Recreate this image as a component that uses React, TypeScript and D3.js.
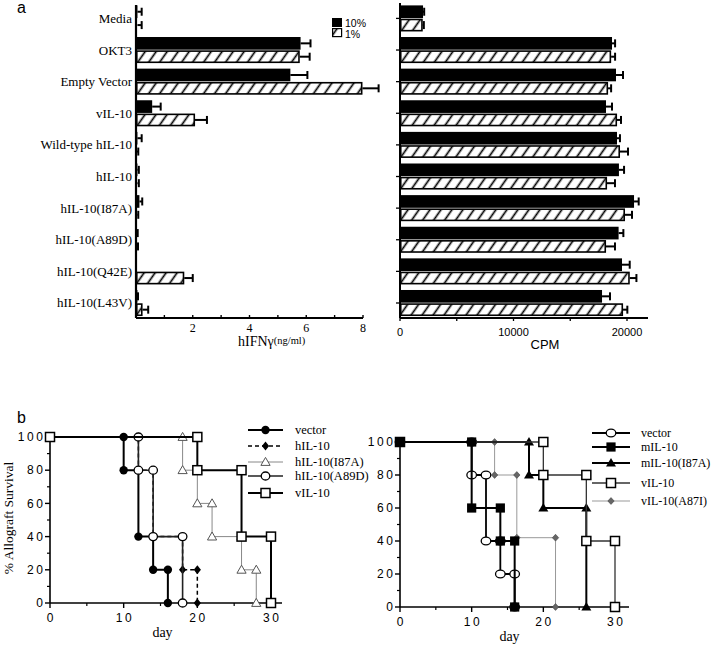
import React from "react";
import * as d3 from "d3";

// ---------- Panel a data ----------
const categories = [
  "Media",
  "OKT3",
  "Empty Vector",
  "vIL-10",
  "Wild-type hIL-10",
  "hIL-10",
  "hIL-10(I87A)",
  "hIL-10(A89D)",
  "hIL-10(Q42E)",
  "hIL-10(L43V)",
];
const groups = ["10%", "1%"];
const ifn10 = [0.05, 5.8, 5.44, 0.57, 0.05, 0.05, 0.12, 0.03, 0.0, 0.05];
const ifn10Err = [0.15, 0.35, 0.6, 0.3, 0.15, 0.05, 0.1, 0.03, 0.0, 0.02];
const ifn1 = [0.05, 5.77, 7.98, 2.08, 0.03, 0.05, 0.05, 0.04, 1.7, 0.23];
const ifn1Err = [0.15, 0.35, 0.57, 0.42, 0.05, 0.05, 0.03, 0.03, 0.3, 0.2];
const ifnTicks = [2, 4, 6, 8];

const cpm10 = [2030, 18680, 19030, 18150, 19120, 19290, 20620, 19260, 19560, 17800];
const cpm10Err = [100, 270, 620, 530, 260, 450, 410, 420, 680, 700];
const cpm1 = [2000, 18600, 18330, 19120, 19380, 18240, 19820, 18150, 20240, 19650];
const cpm1Err = [100, 350, 270, 350, 710, 700, 620, 790, 590, 380];
const cpmTicks = [0, 10000, 20000];

// ---------- Panel b data ----------
const survTicks = [0, 20, 40, 60, 80, 100];
const dayTicks = [0, 10, 20, 30];

const lVectorDays = [0, 10, 12, 14, 16];
const lVectorSurv = [100, 80, 40, 20, 0];
const lHil10Days = [0, 12, 14, 18, 20];
const lHil10Surv = [100, 80, 40, 20, 0];
const lI87aDays = [0, 18, 20, 22, 26, 28];
const lI87aSurv = [100, 80, 60, 40, 20, 0];
const lA89dDays = [0, 12, 14, 18];
const lA89dSurv = [100, 80, 40, 0];
const lVil10Days = [0, 20, 26, 30];
const lVil10Surv = [100, 80, 40, 0];

const rVectorDays = [0, 10, 12, 14, 16];
const rVectorSurv = [100, 80, 40, 20, 0];
const rMil10Days = [0, 10, 14, 16];
const rMil10Surv = [100, 60, 40, 0];
const rMI87aDays = [0, 18, 20, 26];
const rMI87aSurv = [100, 80, 60, 0];
const rVil10Days = [0, 20, 26, 30];
const rVil10Surv = [100, 80, 40, 0];
const rA87iDays = [0, 13.2, 16.3, 21.7];
const rA87iSurv = [100, 80, 42, 0];

type Kind = "fcircle" | "ocircle" | "ocircleW" | "fdiamond" | "otri" | "ftri" | "osquare" | "fsquare" | "gdiamond";

function Marker({ kind, x, y }: { kind: Kind; x: number; y: number }) {
  switch (kind) {
    case "fcircle":
      return <circle cx={x} cy={y} r={4.2} fill="#000" />;
    case "ocircle":
      return <ellipse cx={x} cy={y} rx={4.3} ry={4} fill="#fff" stroke="#000" strokeWidth={1.3} />;
    case "ocircleW":
      return <ellipse cx={x} cy={y} rx={4.8} ry={3.9} fill="#fff" stroke="#000" strokeWidth={1.3} />;
    case "fdiamond":
      return <path d={`M${x},${y - 4.5}L${x + 3.6},${y}L${x},${y + 4.5}L${x - 3.6},${y}Z`} fill="#000" />;
    case "otri":
      return <path d={`M${x},${y - 4.6}L${x + 4.6},${y + 3.4}L${x - 4.6},${y + 3.4}Z`} fill="#fff" stroke="#555" strokeWidth={1} />;
    case "ftri":
      return <path d={`M${x},${y - 5}L${x + 5},${y + 3.6}L${x - 5},${y + 3.6}Z`} fill="#000" />;
    case "osquare":
      return <rect x={x - 4.5} y={y - 4.5} width={9} height={9} fill="#fff" stroke="#000" strokeWidth={1.5} />;
    case "fsquare":
      return <rect x={x - 4.6} y={y - 4.6} width={9.2} height={9.2} fill="#000" />;
    case "gdiamond":
      return <path d={`M${x},${y - 3.4}L${x + 3.2},${y}L${x},${y + 3.4}L${x - 3.2},${y}Z`} fill="#666" stroke="#444" strokeWidth={0.6} />;
  }
  return null;
}

interface Series {
  name: string;
  days: number[];
  surv: number[];
  kind: Kind;
  stroke: string;
  width: number;
  dash?: string;
}

function SurvivalPanel({
  series,
  order,
  x0,
  x30,
  xEnd,
  y0,
  y100,
  legendX,
  legendTextX,
  legendRows,
  legendFont,
}: {
  series: Series[];
  order: number[];
  x0: number;
  x30: number;
  xEnd: number;
  y0: number;
  y100: number;
  legendX: [number, number];
  legendTextX: number;
  legendRows: number[];
  legendFont: number;
}) {
  const x = d3.scaleLinear().domain([0, 30]).range([x0, x30]);
  const y = d3.scaleLinear().domain([0, 100]).range([y0, y100]);
  const line = d3
    .line<[number, number]>()
    .x((d) => x(d[0]))
    .y((d) => y(d[1]))
    .curve(d3.curveStepAfter);
  const minorX = [5, 15, 25];
  const minorY = [10, 30, 50, 70, 90];
  const tickFont = { fontFamily: "Liberation Sans, Arial, sans-serif", fontSize: 12, letterSpacing: 2.6 };
  return (
    <g>
      {/* axes */}
      <line x1={x0} x2={x0} y1={y100} y2={y0} stroke="#000" strokeWidth={1.6} />
      <line x1={x0} x2={xEnd} y1={y0} y2={y0} stroke="#000" strokeWidth={1.6} />
      {survTicks.map((t) => (
        <g key={"yt" + t}>
          <line x1={x0 - 5} x2={x0} y1={y(t)} y2={y(t)} stroke="#000" strokeWidth={1.4} />
          <text x={x0 - 7 + 2.6} y={y(t) + 4.2} textAnchor="end" {...tickFont}>
            {t}
          </text>
        </g>
      ))}
      {minorY.map((t) => (
        <line key={"ym" + t} x1={x0 - 3} x2={x0} y1={y(t)} y2={y(t)} stroke="#000" strokeWidth={1.2} />
      ))}
      {dayTicks.map((t) => (
        <g key={"xt" + t}>
          <line x1={x(t)} x2={x(t)} y1={y0} y2={y0 + 5} stroke="#000" strokeWidth={1.4} />
          <text x={x(t) + 1.3} y={y0 + 19} textAnchor="middle" {...tickFont}>
            {t}
          </text>
        </g>
      ))}
      {minorX.map((t) => (
        <line key={"xm" + t} x1={x(t)} x2={x(t)} y1={y0} y2={y0 + 3} stroke="#000" strokeWidth={1.2} />
      ))}
      <text
        x={(x0 + x30) / 2 + 2}
        y={y0 + 34}
        textAnchor="middle"
        fontFamily="Liberation Serif, Times New Roman, serif"
        fontSize={14}
      >
        day
      </text>
      {/* curves */}
      {order.map((i) => {
        const s = series[i];
        const pts: [number, number][] = s.days.map((d, k) => [d, s.surv[k]]);
        const marks: [number, number][] = [[s.days[0], s.surv[0]]];
        for (let k = 1; k < s.days.length; k++) {
          marks.push([s.days[k], s.surv[k - 1]]);
          marks.push([s.days[k], s.surv[k]]);
        }
        return (
          <g key={s.name}>
            <path d={line(pts) || ""} fill="none" stroke={s.stroke} strokeWidth={s.width} strokeDasharray={s.dash} />
            {marks.map((m, k) => (
              <Marker key={k} kind={s.kind} x={x(m[0])} y={y(m[1])} />
            ))}
          </g>
        );
      })}
      {/* legend */}
      {series.map((s, i) => (
        <g key={"lg" + s.name}>
          <line
            x1={legendX[0]}
            x2={legendX[1]}
            y1={legendRows[i]}
            y2={legendRows[i]}
            stroke={s.stroke}
            strokeWidth={s.width}
            strokeDasharray={s.dash}
          />
          <Marker kind={s.kind} x={(legendX[0] + legendX[1]) / 2} y={legendRows[i]} />
          <text
            x={legendTextX}
            y={legendRows[i] + 4}
            fontFamily="Liberation Serif, Times New Roman, serif"
            fontSize={legendFont}
          >
            {s.name}
          </text>
        </g>
      ))}
    </g>
  );
}

export default function App() {
  const yBand = d3.scaleBand<string>().domain(categories).range([3.4, 318]).paddingInner(0.177).paddingOuter(0.063);
  const sub = d3.scaleBand<string>().domain(groups).range([0, yBand.bandwidth()]).paddingInner(0.05);
  const xIfn = d3.scaleLinear().domain([0, 8]).range([136, 363]);
  const xCpm = d3.scaleLinear().domain([0, 20000]).range([400, 627]);
  const serif = "Liberation Serif, Times New Roman, serif";
  const sans = "Liberation Sans, Arial, Helvetica, sans-serif";

  const barPanel = (
    xs: d3.ScaleLinear<number, number>,
    v10: number[],
    e10: number[],
    v1: number[],
    e1: number[],
    key: string
  ) =>
    categories.map((c, i) => {
      const rows = [
        { g: "10%", v: v10[i], e: e10[i] },
        { g: "1%", v: v1[i], e: e1[i] },
      ];
      return (
        <g key={key + c}>
          {rows.map((r) => {
            const y0 = (yBand(c) || 0) + (sub(r.g) || 0);
            const h = sub.bandwidth();
            const yc = y0 + h / 2;
            const w = Math.max(0, xs(r.v) - xs(0));
            return (
              <g key={r.g}>
                {r.e > 0 && (
                  <g>
                    <line x1={xs(r.v)} x2={xs(r.v + r.e)} y1={yc} y2={yc} stroke="#000" strokeWidth={2} />
                    <line x1={xs(r.v + r.e)} x2={xs(r.v + r.e)} y1={yc - 4} y2={yc + 4} stroke="#000" strokeWidth={2} />
                  </g>
                )}
                {w > 0.5 &&
                  (r.g === "10%" ? (
                    <rect x={xs(0)} y={y0} width={w} height={h} fill="#000" />
                  ) : (
                    <rect
                      x={xs(0) + 0.75}
                      y={y0 + 0.75}
                      width={Math.max(0, w - 1.5)}
                      height={h - 1.5}
                      fill="url(#hatch)"
                      stroke="#000"
                      strokeWidth={1.6}
                    />
                  ))}
              </g>
            );
          })}
        </g>
      );
    });

  const leftSeries: Series[] = [
    { name: "vector", days: lVectorDays, surv: lVectorSurv, kind: "fcircle", stroke: "#000", width: 2 },
    { name: "hIL-10", days: lHil10Days, surv: lHil10Surv, kind: "fdiamond", stroke: "#000", width: 1.5, dash: "4,3" },
    { name: "hIL-10(I87A)", days: lI87aDays, surv: lI87aSurv, kind: "otri", stroke: "#888", width: 1 },
    { name: "hIL-10(A89D)", days: lA89dDays, surv: lA89dSurv, kind: "ocircle", stroke: "#222", width: 1.6 },
    { name: "vIL-10", days: lVil10Days, surv: lVil10Surv, kind: "osquare", stroke: "#000", width: 2 },
  ];
  const rightSeries: Series[] = [
    { name: "vector", days: rVectorDays, surv: rVectorSurv, kind: "ocircleW", stroke: "#000", width: 1.8 },
    { name: "mIL-10", days: rMil10Days, surv: rMil10Surv, kind: "fsquare", stroke: "#000", width: 2 },
    { name: "mIL-10(I87A)", days: rMI87aDays, surv: rMI87aSurv, kind: "ftri", stroke: "#000", width: 2 },
    { name: " vIL-10", days: rVil10Days, surv: rVil10Surv, kind: "osquare", stroke: "#333", width: 1.3 },
    { name: "vIL-10(A87I)", days: rA87iDays, surv: rA87iSurv, kind: "gdiamond", stroke: "#999", width: 1 },
  ];

  return (
    <svg
      width={720}
      height={650}
      viewBox="0 0 720 650"
      style={{ position: "absolute", left: 0, top: 0, background: "#fff" }}
    >
      <defs>
        <pattern id="hatch" patternUnits="userSpaceOnUse" width={9} height={9} patternTransform="rotate(35)">
          <rect width={9} height={9} fill="#fff" />
          <line x1={4.5} x2={4.5} y1={0} y2={9} stroke="#000" strokeWidth={1.7} />
        </pattern>
      </defs>
      <rect width={720} height={650} fill="#fff" />

      {/* panel labels */}
      <text x={17} y={13} fontFamily={sans} fontSize={16}>
        a
      </text>
      <text x={17} y={423} fontFamily={sans} fontSize={16}>
        b
      </text>

      {/* ---- panel a left: IFN ---- */}
      {barPanel(xIfn, ifn10, ifn10Err, ifn1, ifn1Err, "ifn")}
      <line x1={xIfn(0)} x2={xIfn(0)} y1={5} y2={318} stroke="#000" strokeWidth={2.2} />
      <line x1={xIfn(0)} x2={xIfn(8)} y1={318} y2={318} stroke="#000" strokeWidth={2} />
      {d3.range(1, 9).map((t) => (
        <line key={"it" + t} x1={xIfn(t)} x2={xIfn(t)} y1={318} y2={315} stroke="#000" strokeWidth={1.4} />
      ))}
      {ifnTicks.map((t) => (
        <text key={"il" + t} x={xIfn(t)} y={332} textAnchor="middle" fontFamily={serif} fontSize={12}>
          {t}
        </text>
      ))}
      {categories.map((c) => (
        <text
          key={"cl" + c}
          x={132}
          y={(yBand(c) || 0) + yBand.bandwidth() / 2 + 4.5}
          textAnchor="end"
          fontFamily={serif}
          fontSize={13}
        >
          {c}
        </text>
      ))}
      <text x={238} y={346} fontFamily={serif} fontSize={14}>
        hIFNγ
        <tspan fontSize={10.5} dy={-2}>
          (ng/ml)
        </tspan>
      </text>
      {/* legend */}
      <rect x={332} y={18} width={10} height={9} fill="#000" />
      <rect x={332.6} y={28.6} width={9} height={8} fill="url(#hatch)" stroke="#000" strokeWidth={1.2} />
      <text x={345} y={26.5} fontFamily={sans} fontSize={10.5}>
        10%
      </text>
      <text x={345} y={37.5} fontFamily={sans} fontSize={10.5}>
        1%
      </text>

      {/* ---- panel a right: CPM ---- */}
      {barPanel(xCpm, cpm10, cpm10Err, cpm1, cpm1Err, "cpm")}
      <line x1={xCpm(0)} x2={xCpm(0)} y1={3} y2={318} stroke="#000" strokeWidth={2} />
      <line x1={xCpm(0)} x2={648} y1={318} y2={318} stroke="#000" strokeWidth={2} />
      {categories.map((c) => (
        <line
          key={"ct" + c}
          x1={xCpm(0) - 4}
          x2={xCpm(0)}
          y1={(yBand(c) || 0) + yBand.bandwidth() / 2}
          y2={(yBand(c) || 0) + yBand.bandwidth() / 2}
          stroke="#000"
          strokeWidth={1.3}
        />
      ))}
      {[0, 5000, 10000, 15000, 20000].map((t) => (
        <line key={"cx" + t} x1={xCpm(t)} x2={xCpm(t)} y1={318} y2={321} stroke="#000" strokeWidth={1.3} />
      ))}
      {cpmTicks.map((t) => (
        <text key={"cxl" + t} x={xCpm(t)} y={336} textAnchor="middle" fontFamily={sans} fontSize={11}>
          {t}
        </text>
      ))}
      <text x={545} y={349} textAnchor="middle" fontFamily={sans} fontSize={13}>
        CPM
      </text>

      {/* ---- panel b ---- */}
      <text
        transform="translate(13,518) rotate(-90)"
        textAnchor="middle"
        fontFamily={serif}
        fontSize={13.5}
      >
        % Allograft Survival
      </text>
      <SurvivalPanel
        series={leftSeries}
        order={[1, 2, 0, 3, 4]}
        x0={50}
        x30={271}
        xEnd={282}
        y0={603}
        y100={437}
        legendX={[248, 283]}
        legendTextX={295}
        legendRows={[430, 446, 462, 476, 493]}
        legendFont={12.5}
      />
      <SurvivalPanel
        series={rightSeries}
        order={[4, 0, 2, 3, 1]}
        x0={400}
        x30={615}
        xEnd={629}
        y0={607}
        y100={442}
        legendX={[592, 630]}
        legendTextX={641}
        legendRows={[433, 447, 463, 483, 501]}
        legendFont={12}
      />
    </svg>
  );
}
